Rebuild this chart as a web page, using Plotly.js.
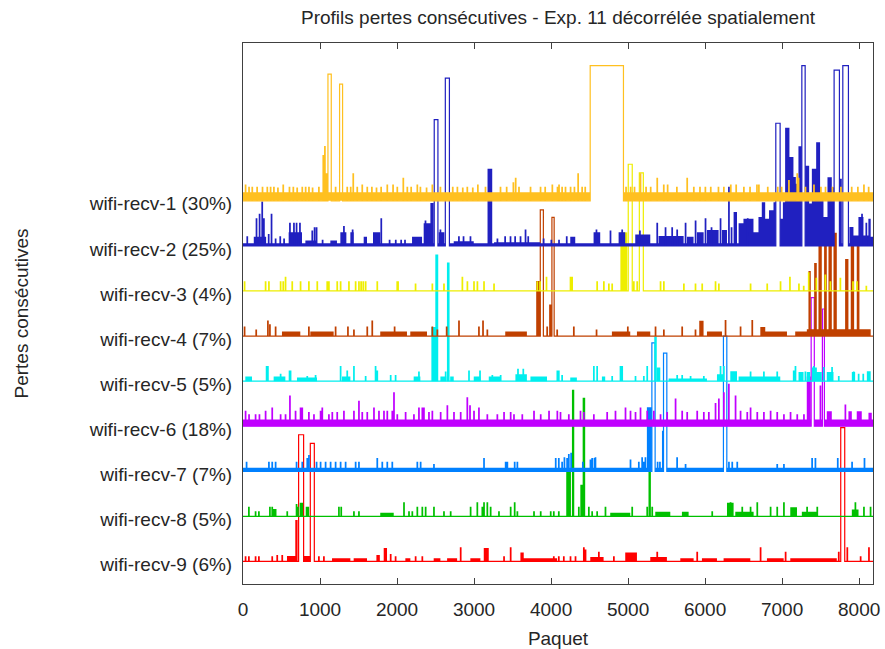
<!DOCTYPE html>
<html>
<head>
<meta charset="utf-8">
<script src="https://cdn.plot.ly/plotly-3.0.1.min.js"></script>
<style>html,body{margin:0;padding:0;background:#fff;}#chart{width:885px;height:649px;}</style>
</head>
<body>
<div id="chart"></div>
<script>
// ---------- DATA ----------
const PACKETS = 8192;
const xTicks = [0, 1000, 2000, 3000, 4000, 5000, 6000, 7000, 8000];
const labels = ["wifi-recv-1 (30%)", "wifi-recv-2 (25%)", "wifi-recv-3 (4%)", "wifi-recv-4 (7%)", "wifi-recv-5 (5%)",
                "wifi-recv-6 (18%)", "wifi-recv-7 (7%)", "wifi-recv-8 (5%)", "wifi-recv-9 (6%)"];
const offsets = [8, 7, 6, 5, 4, 3, 2, 1, 0];
const colors = ["#ffc020", "#2020c0", "#eeee00", "#c04000", "#00eeee", "#c000ff", "#0080ff", "#00c000", "#ff0000"];

// dense loss runs [start, end, height]
const s1Fill = [[0,4508,0.19],[4940,8192,0.19]];
// long bursts drawn as steps [start, end, height]
const s1Burst = [[1103,1146,2.81],[1254,1293,2.59],[4508,4940,3.0]];
// isolated losses [packet, height]
const s1Spike = [[30,0.35],[75,0.3],[117,0.3],[180,0.3],[250,0.3],[312,0.3],[355,0.3],[398,0.3],[450,0.28],[519,0.35],[600,0.3],[650,0.3],[700,0.28],[766,0.3],[810,0.3],[853,0.3],[900,0.28],[982,0.3],[1039,1.0],[1060,1.2],[1082,0.6],[1199,0.3],[1350,0.3],[1395,0.3],[1428,0.6],[1480,0.3],[1545,0.35],[1610,0.3],[1670,0.3],[1730,0.28],[1790,0.3],[1870,0.35],[1945,0.35],[2000,0.3],[2078,0.5],[2130,0.3],[2180,0.3],[2260,0.35],[2300,0.3],[2380,0.28],[2455,0.35],[2560,0.3],[2720,0.3],[2780,0.3],[2850,0.28],[2909,0.3],[2980,0.28],[3046,0.35],[3145,0.3],[3340,0.3],[3420,0.3],[3507,0.4],[3537,0.5],[3580,0.3],[3730,0.3],[3860,0.3],[3920,0.3],[4013,0.35],[4080,0.3],[4100,0.35],[4140,0.3],[4184,0.3],[4250,0.3],[4300,0.3],[4348,0.6],[4400,0.3],[4440,0.3],[4970,0.3],[5030,0.3],[5080,0.3],[5158,0.6],[5230,0.3],[5290,0.3],[5375,0.5],[5460,0.35],[5510,0.35],[5630,0.3],[5764,0.5],[5850,0.3],[5930,0.3],[6000,0.3],[6070,0.3],[6170,0.3],[6240,0.3],[6330,0.35],[6400,0.35],[6500,0.3],[6580,0.3],[6670,0.35],[6695,0.35],[6810,0.3],[6940,0.3],[6990,0.3],[7085,0.45],[7193,0.6],[7210,0.5],[7300,0.3],[7410,0.35],[7500,0.3],[7560,0.3],[7650,0.3],[7760,0.3],[7900,0.3],[7980,0.3],[8059,0.35],[8120,0.3]];

const s2Fill = [[0,2483,0.06],[2531,2627,0.06],[2680,6918,0.06],[6974,7256,0.06],[7299,7675,0.06],[7744,7788,0.06],[7861,8192,0.06],
  [140,300,0.2],[593,766,0.3],[810,960,0.12],[1134,1220,0.12],[1264,1342,0.3],[1394,1437,0.3],[1567,1610,0.2],[1688,1783,0.3],[2195,2325,0.2],[2346,2433,0.5],[2433,2476,0.95],[2541,2615,0.3],[2736,2996,0.1],[3175,3236,1.71],[3260,3860,0.08],[4249,4314,0.2],[4552,4638,0.3],[4877,4963,0.3],[5093,5288,0.25],[5396,5721,0.22],[5764,5850,0.2],[5894,5981,0.3],[6024,6175,0.35],[6219,6284,0.35],[6370,6414,0.75],[6435,6498,0.5],[6498,6628,0.6],[6628,6693,0.3],[6693,6736,0.64],[6736,6780,0.97],[6780,6830,0.6],[6830,6888,0.79],[6888,6918,0.97],[6974,7010,0.6],[7010,7039,0.97],[7039,7095,2.62],[7095,7147,1.97],[7147,7178,1.53],[7178,7212,1.38],[7212,7256,2.21],[7299,7351,1.78],[7351,7386,0.94],[7386,7442,1.71],[7442,7493,2.3],[7493,7537,1.1],[7537,7589,0.64],[7589,7645,1.52],[7645,7675,1.3],[7744,7775,1.49],[7874,7926,0.42],[7926,7991,0.23],[7991,8056,0.64],[8056,8120,0.23],[8120,8150,0.6],[8150,8192,0.2]];
const s2Burst = [[2483,2531,2.8],[2627,2680,3.72],[6918,6974,2.72],[7256,7299,4.0],[7675,7744,3.9],[7788,7861,4.0]];
const s2Spike = [[52,0.2],[172,0.6],[212,0.7],[246,0.97],[268,0.6],[330,0.25],[367,0.7],[420,0.15],[480,0.2],[530,0.15],[606,0.5],[658,0.5],[692,0.5],[736,0.5],[896,0.33],[926,0.4],[952,0.4],[1030,0.12],[1307,0.43],[1420,0.35],[1792,0.6],[1900,0.12],[1980,0.12],[2050,0.12],[2100,0.12],[2366,0.55],[2560,0.35],[2800,0.2],[2860,0.2],[2950,0.2],[3300,0.15],[3400,0.2],[3470,0.2],[3530,0.2],[3600,0.2],[3665,0.35],[3700,0.2],[3900,0.15],[4000,0.12],[4100,0.12],[4200,0.2],[4586,0.35],[4768,0.33],[4920,0.35],[5150,0.33],[5375,0.5],[5483,0.4],[5569,0.4],[5634,0.35],[5743,0.5],[5873,0.55],[6002,0.6],[6080,0.4],[6197,0.6],[6306,1.3],[6340,0.4],[6550,0.6],[8034,0.7],[8090,0.5]];

const s3Fill = [[4900,4990,1.3]];
const s3Burst = [[5002,5054,2.81],[5146,5198,2.62]];
const s3Spike = [[17,0.2],[290,0.2],[333,0.2],[485,0.2],[519,0.2],[549,0.3],[636,0.2],[744,0.2],[852,0.2],[961,0.2],[1090,0.2],[1112,0.2],[1220,0.2],[1264,0.2],[1372,0.2],[1459,0.2],[1502,0.2],[1530,0.2],[1558,0.2],[1589,0.2],[1740,0.2],[1999,0.2],[2010,0.2],[2237,0.15],[2455,0.15],[2606,0.15],[2845,0.3],[2910,0.2],[2996,0.2],[3040,0.2],[3126,0.2],[3256,0.15],[3818,0.2],[3853,0.2],[3937,0.3],[4249,0.3],[4270,0.3],[4595,0.2],[4682,0.2],[4747,0.15],[4790,0.15],[5071,0.2],[5115,0.2],[5418,0.2],[5461,0.2],[5721,0.15],[5872,0.15],[5959,0.15],[6132,0.2],[6175,0.15],[6587,0.15],[6803,0.15],[6976,0.2],[7098,0.3],[7215,0.15],[7277,0.1],[7342,0.4],[7441,0.28],[7558,0.35],[7623,0.2],[7753,0.28],[7917,0.2],[7969,0.2],[8090,0.1]];

const s4Fill = [[506,744,0.1],[874,1177,0.1],[1782,2129,0.1],[2172,2389,0.1],[3405,3686,0.1],[3807,3860,1.22],[3975,4011,0.7],[4790,5028,0.1],[5115,5288,0.1],[5924,5980,0.34],[6024,6219,0.1],[6717,6781,0.2],[6781,7063,0.1],[7170,7321,0.1],[7321,8150,0.15],[7342,7372,1.44],[7416,7450,1.62],[7472,7515,2.0],[7545,7580,2.0],[7602,7645,2.0],[7667,7710,2.29],[7818,7861,1.71],[7891,7935,2.0],[7969,8004,2.1]];
const s4Burst = [[3860,3900,2.8],[4011,4040,2.63]];
const s4Spike = [[17,0.2],[168,0.13],[320,0.33],[346,0.25],[420,0.2],[852,0.2],[1199,0.2],[1359,0.2],[1437,0.13],[1610,0.2],[1675,0.33],[1965,0.2],[2455,0.2],[2520,0.13],[2641,0.2],[2801,0.33],[3060,0.2],[3113,0.33],[3169,0.13],[3946,0.2],[4076,0.13],[4292,0.2],[4587,0.13],[4993,0.2],[5353,0.2],[5461,0.13],[5699,0.2],[5872,0.13],[6262,0.34],[6457,0.2],[6609,0.34]];

const s5Fill = [[30,117,0.1],[398,550,0.1],[701,961,0.08],[1285,1394,0.1],[2216,2303,0.1],[2446,2497,1.2],[2497,2535,2.81],[2563,2640,0.1],[2648,2682,2.63],[2690,2736,0.1],[2996,3083,0.1],[3191,3342,0.1],[3537,3686,0.15],[3732,3947,0.1],[4249,4335,0.08],[4660,4703,0.1],[5340,5372,0.99],[5374,5418,0.3],[5526,6024,0.06],[6154,6240,0.15],[6327,6414,0.22],[6435,6976,0.1],[7213,7278,0.2],[7320,7364,0.2],[7386,7451,0.3],[7451,7515,0.2],[7580,7667,0.2],[7905,7948,0.2],[8100,8150,0.22]];
const s5Burst = [];
const s5Spike = [[303,0.32],[320,0.32],[485,0.15],[601,0.22],[614,0.22],[831,0.1],[939,0.12],[1264,0.32],[1350,0.22],[1437,0.32],[1589,0.1],[1718,0.32],[1740,0.22],[1914,0.12],[1978,0.12],[2281,0.2],[2628,0.2],[2931,0.22],[3074,0.22],[3234,0.12],[3342,0.12],[3567,0.26],[3636,0.26],[4078,0.22],[4097,0.22],[4140,0.12],[4552,0.32],[4595,0.32],[4790,0.1],[4898,0.32],[4920,0.32],[5093,0.1],[5201,0.1],[5245,0.32],[5634,0.12],[5699,0.12],[5808,0.1],[5980,0.1],[6197,0.32],[6240,0.32],[6587,0.2],[6760,0.2],[6933,0.2],[7147,0.22],[7170,0.32],[7299,0.2],[7407,0.32],[7537,0.3],[7645,0.3],[7732,0.1],[7926,0.2],[7990,0.15],[8050,0.15]];

const s6Fill = [[0,7377,0.15],[7418,7523,0.15],[7549,8192,0.15],[7320,7372,1.1],[7580,7645,0.33],[7861,7905,0.33],[7969,8034,0.33],[8121,8164,0.3]];
const s6Burst = [[7377,7418,2.85],[7523,7549,2.6]];
const s6Spike = [[30,0.33],[75,0.25],[160,0.25],[210,0.25],[290,0.33],[376,0.4],[485,0.25],[549,0.25],[606,0.67],[679,0.33],[744,0.4],[766,0.4],[852,0.3],[918,0.25],[1004,0.33],[1026,0.4],[1112,0.25],[1156,0.3],[1220,0.3],[1307,0.33],[1437,0.33],[1502,0.55],[1545,0.3],[1610,0.3],[1697,0.4],[1762,0.33],[1827,0.33],[1870,0.33],[1935,0.33],[1957,0.74],[2000,0.25],[2108,0.3],[2216,0.25],[2281,0.4],[2325,0.4],[2346,0.4],[2411,0.3],[2455,0.33],[2563,0.3],[2650,0.45],[2736,0.3],[2823,0.3],[2909,0.63],[2944,0.45],[2996,0.33],[3060,0.4],[3169,0.25],[3299,0.25],[3386,0.3],[3472,0.3],[3515,0.25],[3623,0.25],[3775,0.33],[3862,0.25],[3970,0.33],[4078,0.33],[4119,0.3],[4227,0.25],[4379,0.33],[4422,0.3],[4552,0.25],[4725,0.3],[4833,0.33],[4963,0.4],[5028,0.33],[5093,0.3],[5158,0.4],[5245,0.33],[5331,0.33],[5418,0.25],[5504,0.3],[5613,0.6],[5699,0.33],[5764,0.3],[5894,0.33],[5980,0.3],[6045,0.3],[6132,0.5],[6175,0.6],[6240,0.74],[6305,0.93],[6392,0.67],[6457,0.33],[6544,0.3],[6587,0.4],[6674,0.3],[6760,0.3],[6847,0.33],[6933,0.3],[7020,0.25],[7106,0.3],[7193,0.25],[7280,0.25],[7494,0.89],[7818,0.47]];

const s7Fill = [[0,5244,0.08],[5244,5309,1.42],[5351,5460,0.08],[5440,5460,0.9],[5503,6238,0.08],[6282,8192,0.08]];
const s7Burst = [[5309,5351,2.85],[5460,5503,2.62],[6238,6282,3.0]];
const s7Spike = [[43,0.2],[333,0.2],[376,0.2],[420,0.2],[692,0.2],[766,0.2],[831,0.28],[853,0.35],[952,0.2],[1004,0.2],[1069,0.2],[1134,0.2],[1199,0.2],[1264,0.2],[1329,0.2],[1459,0.2],[1502,0.2],[1740,0.28],[1805,0.2],[1870,0.2],[1935,0.2],[2260,0.2],[2303,0.2],[2476,0.15],[3126,0.28],[3407,0.2],[3429,0.2],[3524,0.2],[3559,0.2],[4057,0.28],[4097,0.28],[4140,0.2],[4170,0.3],[4205,0.28],[4227,0.37],[4257,0.4],[4409,0.2],[4508,0.25],[4530,0.28],[4560,0.28],[4573,0.3],[5028,0.25],[5136,0.2],[5179,0.3],[5201,0.2],[5222,0.3],[5380,0.2],[5410,0.2],[5633,0.3],[5743,0.15],[6306,0.2],[6349,0.2],[6414,0.2],[6933,0.15],[7020,0.15],[7386,0.28],[7429,0.28],[7719,0.28],[7905,0.2],[8066,0.28]];

const s8Fill = [[1782,1957,0.08],[4197,4258,1.0],[4271,4301,2.81],[4380,4410,0.7],[4410,4443,2.63],[4768,5028,0.08],[5265,5296,1.0],[5353,5548,0.1],[5699,5786,0.1],[6284,6370,0.3],[6392,6630,0.1],[7106,7193,0.2],[7256,7453,0.1],[7905,7992,0.15]];
const s8Burst = [];
const s8Spike = [[73,0.2],[160,0.1],[203,0.1],[346,0.2],[376,0.2],[398,0.15],[420,0.15],[571,0.1],[692,0.26],[710,0.2],[744,0.29],[766,0.29],[822,0.2],[844,0.2],[1242,0.2],[1272,0.2],[1437,0.1],[1502,0.1],[2087,0.3],[2152,0.1],[2195,0.1],[2260,0.2],[2325,0.2],[2368,0.2],[2476,0.2],[2606,0.1],[2693,0.1],[2952,0.2],[3039,0.3],[3104,0.2],[3126,0.3],[3169,0.3],[3212,0.2],[3320,0.1],[3472,0.2],[3524,0.3],[3559,0.1],[3775,0.1],[3862,0.1],[3992,0.1],[4032,0.1],[4097,0.1],[4357,0.2],[4487,0.2],[4530,0.1],[4595,0.1],[4703,0.2],[5050,0.2],[5245,0.2],[5310,0.2],[6089,0.1],[6327,0.3],[6479,0.2],[6587,0.2],[6674,0.3],[6847,0.2],[6933,0.2],[7020,0.3],[7321,0.2],[7453,0.2],[7948,0.3],[8059,0.2],[8145,0.2]];

const s9Fill = [[571,679,0.12],[679,709,0.92],[787,874,0.12],[1156,1394,0.07],[1437,1610,0.07],[1827,1870,0.3],[2108,2173,0.07],[2476,2563,0.07],[2650,2780,0.07],[2952,3082,0.07],[3126,3191,0.3],[3602,3645,0.2],[3645,4078,0.07],[4509,4682,0.1],[4963,5115,0.2],[5288,5504,0.1],[5678,5851,0.07],[5959,6154,0.07],[6240,6587,0.07],[6803,7020,0.07],[7106,7710,0.07]];
const s9Burst = [[722,787,2.81],[874,926,2.62],[7761,7813,2.97]];
const s9Spike = [[30,0.1],[73,0.1],[160,0.1],[203,0.1],[376,0.1],[441,0.13],[506,0.13],[982,0.1],[1047,0.1],[1740,0.13],[1762,0.13],[1914,0.15],[1978,0.1],[2238,0.1],[2325,0.1],[2823,0.3],[3386,0.1],[3472,0.3],[4032,0.1],[4097,0.1],[4162,0.1],[4249,0.1],[4314,0.1],[4422,0.3],[4444,0.25],[4617,0.2],[4812,0.1],[5375,0.2],[5894,0.2],[6717,0.3],[7042,0.2],[7732,0.2],[7843,0.3],[8016,0.1],[8124,0.3]];

const fills = [s1Fill, s2Fill, s3Fill, s4Fill, s5Fill, s6Fill, s7Fill, s8Fill, s9Fill];
const bursts = [s1Burst, s2Burst, s3Burst, s4Burst, s5Burst, s6Burst, s7Burst, s8Burst, s9Burst];
const spikes = [s1Spike, s2Spike, s3Spike, s4Spike, s5Spike, s6Spike, s7Spike, s8Spike, s9Spike];

// ---------- BUILD TRACES ----------
const SPIKE_W = 7;
const FONT = "Liberation Sans, Arial, sans-serif";
const TXT = '#262626';
const traces = [];
for (let i = 8; i >= 0; i--) {           // series 9 drawn first, series 1 on top
  const o = offsets[i], c = colors[i];
  const fx = [], fy = [];
  fills[i].forEach(([a, b, h]) => { fx.push(a, a, b, b, null); fy.push(o, o + h, o + h, o, null); });
  traces.push({x: fx, y: fy, type: 'scatter', mode: 'lines', fill: 'toself', fillcolor: c,
               line: {width: 0, color: c}, hoverinfo: 'skip', showlegend: false});
  const ev = bursts[i].map(e => e.slice()).concat(spikes[i].map(([p, h]) => [p, p + SPIKE_W, h]))
              .sort((u, v) => u[0] - v[0]);
  const lx = [0], ly = [o];
  ev.forEach(([a, b, h]) => { lx.push(a, b); ly.push(o + h, o); });
  lx.push(PACKETS); ly.push(o);
  traces.push({x: lx, y: ly, type: 'scatter', mode: 'lines', line: {shape: 'hv', width: 1.2, color: c},
               name: labels[i], hoverinfo: 'skip', showlegend: false});
}

const layout = {
  width: 885, height: 649,
  margin: {l: 243, r: 12, t: 43, b: 65},
  paper_bgcolor: '#ffffff', plot_bgcolor: '#ffffff',
  showlegend: false,
  font: {family: FONT, size: 19, color: TXT},
  title: {text: 'Profils pertes consécutives - Exp. 11 décorrélée spatialement',
          x: 0.5, xref: 'paper', xanchor: 'center', y: 0.973, yref: 'container', yanchor: 'middle',
          font: {family: FONT, size: 19, color: TXT}},
  xaxis: {range: [0, 8180], tickvals: xTicks, ticktext: xTicks.map(String), ticks: 'inside', ticklen: 6,
          tickcolor: '#404040', showline: true, linecolor: '#404040', linewidth: 1, mirror: 'ticks',
          showgrid: false, zeroline: false, ticklabelstandoff: 8,
          tickfont: {family: FONT, size: 19, color: TXT},
          title: {text: 'Paquet', standoff: 12, font: {family: FONT, size: 19, color: TXT}}},
  yaxis: {range: [-0.5, 11.5], tickvals: offsets, ticktext: labels, ticks: '', showline: true,
          linecolor: '#404040', linewidth: 1, mirror: true, showgrid: false, zeroline: false,
          ticklabelstandoff: 6, ticklabelshift: 3,
          tickfont: {family: FONT, size: 19, color: TXT},
          title: {text: 'Pertes consécutives', standoff: 55, font: {family: FONT, size: 19, color: TXT}}}
};

Plotly.newPlot('chart', traces, layout, {displayModeBar: false, staticPlot: true});
</script>
</body>
</html>
